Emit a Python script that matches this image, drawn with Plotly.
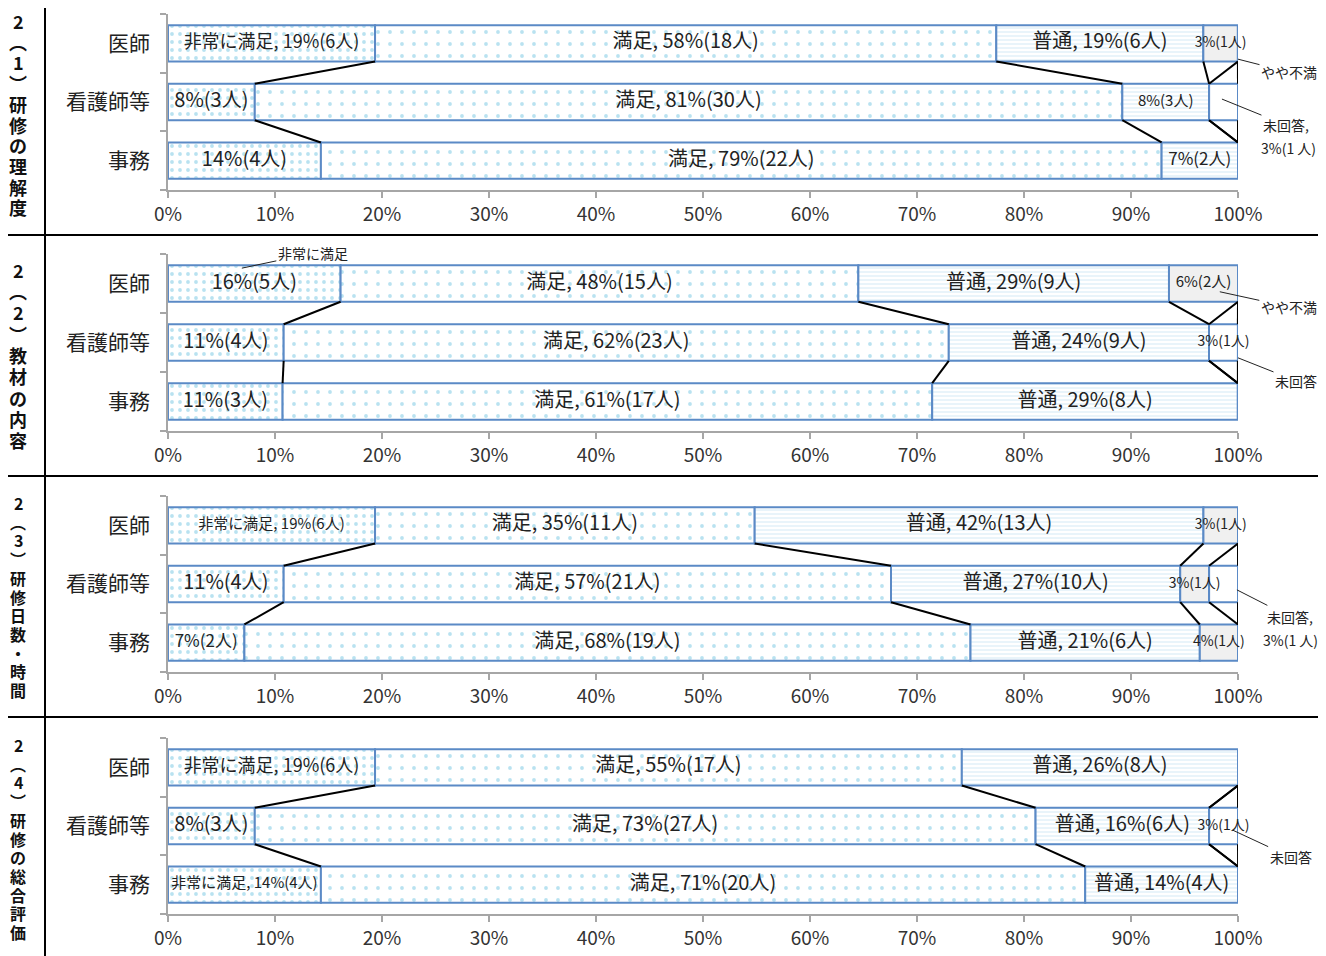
import plotly.graph_objects as go

# ---------------- data ----------------
categories = ["医師", "看護師等", "事務"]
series_names = ["非常に満足", "満足", "普通", "やや不満", "未回答"]
x_tick_vals = [0, 10, 20, 30, 40, 50, 60, 70, 80, 90, 100]
x_tick_text = ["0%", "10%", "20%", "30%", "40%", "50%", "60%", "70%", "80%", "90%", "100%"]
panel_titles = ["2︵1︶研修の理解度", "2︵2︶教材の内容", "2︵3︶研修日数・時間", "2︵4︶研修の総合評価"]

# (1) 研修の理解度  (% per row: 医師, 看護師等, 事務)
q1_very = [19.35, 8.11, 14.29]
q1_sat = [58.06, 81.08, 78.57]
q1_neutral = [19.35, 8.11, 7.14]
q1_dissat = [3.23, 0.0, 0.0]
q1_none = [0.0, 2.70, 0.0]
q1_text_very = ["非常に満足, 19%(6人)", "8%(3人)", "14%(4人)"]
q1_text_sat = ["満足, 58%(18人)", "満足, 81%(30人)", "満足, 79%(22人)"]
q1_text_neutral = ["普通, 19%(6人)", "8%(3人)", "7%(2人)"]
q1_text_dissat = ["3%(1人)", "", ""]
q1_text_none = ["", "", ""]

# (2) 教材の内容
q2_very = [16.13, 10.81, 10.71]
q2_sat = [48.39, 62.16, 60.71]
q2_neutral = [29.03, 24.32, 28.57]
q2_dissat = [6.45, 0.0, 0.0]
q2_none = [0.0, 2.70, 0.0]
q2_text_very = ["16%(5人)", "11%(4人)", "11%(3人)"]
q2_text_sat = ["満足, 48%(15人)", "満足, 62%(23人)", "満足, 61%(17人)"]
q2_text_neutral = ["普通, 29%(9人)", "普通, 24%(9人)", "普通, 29%(8人)"]
q2_text_dissat = ["6%(2人)", "", ""]
q2_text_none = ["", "3%(1人)", ""]

# (3) 研修日数・時間
q3_very = [19.35, 10.81, 7.14]
q3_sat = [35.48, 56.76, 67.86]
q3_neutral = [41.94, 27.03, 21.43]
q3_dissat = [3.23, 2.70, 3.57]
q3_none = [0.0, 2.70, 0.0]
q3_text_very = ["非常に満足, 19%(6人)", "11%(4人)", "7%(2人)"]
q3_text_sat = ["満足, 35%(11人)", "満足, 57%(21人)", "満足, 68%(19人)"]
q3_text_neutral = ["普通, 42%(13人)", "普通, 27%(10人)", "普通, 21%(6人)"]
q3_text_dissat = ["3%(1人)", "3%(1人)", "4%(1人)"]
q3_text_none = ["", "", ""]

# (4) 研修の総合評価
q4_very = [19.35, 8.11, 14.29]
q4_sat = [54.84, 72.97, 71.43]
q4_neutral = [25.81, 16.22, 14.29]
q4_dissat = [0.0, 0.0, 0.0]
q4_none = [0.0, 2.70, 0.0]
q4_text_very = ["非常に満足, 19%(6人)", "8%(3人)", "非常に満足, 14%(4人)"]
q4_text_sat = ["満足, 55%(17人)", "満足, 73%(27人)", "満足, 71%(20人)"]
q4_text_neutral = ["普通, 26%(8人)", "普通, 16%(6人)", "普通, 14%(4人)"]
q4_text_dissat = ["", "", ""]
q4_text_none = ["", "3%(1人)", ""]

# ---------------- style ----------------
FONT = "Noto Sans CJK JP"
BORDER = "#5b8ac6"
BAR_W = 0.62
OFF = 8                      # page body margin
W, H = 1326 - OFF, 956 - OFF  # figure size
X0_PX, X1_PX = 168, 1238     # window pixels of 0% and 100%
panel_px = [(14, 190), (254, 431), (496, 672), (738, 914)]


def px_x(px):
    return (px - OFF) / W


def px_y(py):
    return 1 - (py - OFF) / H


series_style = [
    dict(shape=".", fgcolor="#74c6e2", bgcolor="white", size=8, solidity=0.18),
    dict(shape=".", fgcolor="#74c6e2", bgcolor="white", size=12, solidity=0.08),
    dict(shape="-", fgcolor="#c9e4f4", bgcolor="white", size=4, solidity=0.4),
    None,
    None,
]
series_fill = ["white", "white", "white", "#f0f0f0", "white"]

# label font sizes [panel][series][row]
label_sizes = [
    [[18, 20, 20], [20, 20, 20], [20, 15, 17], [14, 14, 14], [14, 14, 14]],
    [[20, 20, 20], [20, 20, 20], [20, 20, 20], [15, 14, 14], [14, 14, 14]],
    [[15, 20, 17], [20, 20, 20], [20, 20, 20], [14, 14, 14], [14, 14, 14]],
    [[18, 20, 15], [20, 20, 20], [20, 20, 20], [14, 14, 14], [14, 14, 14]],
]

panels = [
    ([q1_very, q1_sat, q1_neutral, q1_dissat, q1_none],
     [q1_text_very, q1_text_sat, q1_text_neutral, q1_text_dissat, q1_text_none]),
    ([q2_very, q2_sat, q2_neutral, q2_dissat, q2_none],
     [q2_text_very, q2_text_sat, q2_text_neutral, q2_text_dissat, q2_text_none]),
    ([q3_very, q3_sat, q3_neutral, q3_dissat, q3_none],
     [q3_text_very, q3_text_sat, q3_text_neutral, q3_text_dissat, q3_text_none]),
    ([q4_very, q4_sat, q4_neutral, q4_dissat, q4_none],
     [q4_text_very, q4_text_sat, q4_text_neutral, q4_text_dissat, q4_text_none]),
]

fig = go.Figure()
rows = list(range(len(categories)))

for p, (values, texts) in enumerate(panels):
    xa = "x" if p == 0 else f"x{p+1}"
    ya = "y" if p == 0 else f"y{p+1}"
    cum_start = [0.0] * len(categories)
    ends = []  # ends[k][r]
    for k, name in enumerate(series_names):
        marker = dict(color=series_fill[k], line=dict(color=BORDER, width=2))
        if series_style[k] is not None:
            marker["pattern"] = series_style[k]
        fig.add_trace(go.Bar(
            x=values[k], y=rows, base=cum_start, orientation="h", width=BAR_W,
            name=name, marker=marker, xaxis=xa, yaxis=ya, hoverinfo="skip",
        ))
        centers = [cum_start[r] + values[k][r] / 2 for r in rows]
        fig.add_trace(go.Scatter(
            x=centers, y=rows, mode="text", text=texts[k],
            textfont=dict(family=FONT, size=label_sizes[p][k], color="#222222"),
            textposition="middle center", xaxis=xa, yaxis=ya, hoverinfo="skip",
            cliponaxis=False,
        ))
        cum_start = [cum_start[r] + values[k][r] for r in rows]
        ends.append(list(cum_start))
    # series lines
    lx, ly = [], []
    for r in rows[:-1]:
        for k in range(len(series_names)):
            lx += [ends[k][r], ends[k][r + 1], None]
            ly += [r + BAR_W / 2, r + 1 - BAR_W / 2, None]
    fig.add_trace(go.Scatter(x=lx, y=ly, mode="lines", line=dict(color="black", width=2),
                             xaxis=xa, yaxis=ya, hoverinfo="skip", cliponaxis=False))

# axes
for p, (top, bot) in enumerate(panel_px):
    sfx = "" if p == 0 else str(p + 1)
    fig.update_layout(**{
        f"xaxis{sfx}": dict(
            domain=[px_x(X0_PX), px_x(X1_PX)], range=[0, 100], anchor=f"y{sfx}",
            tickvals=x_tick_vals, ticktext=x_tick_text, showgrid=False, zeroline=False,
            showline=True, linecolor="#a6a6a6", linewidth=1.5, automargin=False,
            ticks="outside", ticklen=6, tickcolor="#a6a6a6", tickwidth=1.5,
            tickfont=dict(family=FONT, size=19, color="#333333"), fixedrange=True,
        ),
        f"yaxis{sfx}": dict(
            domain=[px_y(bot), px_y(top)], range=[2.5, -0.5], anchor=f"x{sfx}",
            tickvals=rows, ticktext=categories, ticks="", showgrid=False, zeroline=False,
            showline=True, linecolor="#a6a6a6", linewidth=1.5, automargin=False,
            minor=dict(tickvals=[-0.5, 0.5, 1.5, 2.5], ticks="outside", ticklen=6,
                       tickcolor="#a6a6a6", tickwidth=1.5, showgrid=False),
            ticklabelstandoff=12,
            tickfont=dict(family=FONT, size=21, color="#222222"), fixedrange=True,
        ),
    })

annotations = []
# vertical titles: one glyph per line, stacked top to bottom
title_first_y = [21, 270, 503, 745]
title_step = [20.7, 21.25, 18.7, 18.7]
title_sizes = [18, 18, 16, 16]
for t, y0, step, fs in zip(panel_titles, title_first_y, title_step, title_sizes):
    for i, ch in enumerate(t):
        annotations.append(dict(
            x=px_x(18), y=px_y(y0 + i * step), xref="paper", yref="paper", showarrow=False,
            text="<b>" + ch + "</b>", font=dict(family=FONT, size=fs, color="#111111"),
            xanchor="center", yanchor="middle",
        ))


# callouts (anchor in data coords, text offset in px)
def callout(axis_sfx, x, y, text, ax, ay, size=14):
    annotations.append(dict(
        x=x, y=y, xref="x" + axis_sfx, yref="y" + axis_sfx, text=text, showarrow=True,
        arrowhead=0, arrowwidth=1, arrowcolor="#222222", ax=ax, ay=ay,
        font=dict(family=FONT, size=size, color="#222222"), align="left",
    ))


def note(axis_sfx, x, y, text, xs, ys, size=14):
    annotations.append(dict(
        x=x, y=y, xref="x" + axis_sfx, yref="y" + axis_sfx, text=text, showarrow=False,
        xshift=xs, yshift=ys, font=dict(family=FONT, size=size, color="#222222"),
    ))


callout("", 100, 0.27, "やや不満", 51, 13)
callout("", 98.5, 0.95, "未回答,", 64, 26)
note("", 98.5, 0.95, "3%(1 人)", 67, -49)
callout("2", 6.9, -0.26, "非常に満足", 71, -15)
callout("2", 98.3, 0.14, "やや不満", 69, 15)
callout("2", 100, 1.26, "未回答", 58, 23)
callout("3", 100.2, 0.17, "やや不満", 49, 20)
callout("3", 99.9, 1.10, "未回答,", 53, 27)
note("3", 99.9, 1.10, "3%(1 人)", 54, -50)
callout("4", 99.5, 1.07, "未回答", 58, 27)

# frame lines
shapes = [dict(type="line", xref="paper", yref="paper", x0=px_x(45), x1=px_x(45),
               y0=0, y1=px_y(0), line=dict(color="black", width=2))]
for yy in [235, 476, 717]:
    shapes.append(dict(type="line", xref="paper", yref="paper", x0=px_x(0), x1=1,
                       y0=px_y(yy), y1=px_y(yy), line=dict(color="black", width=2)))

fig.update_layout(
    width=W, height=H, margin=dict(l=0, r=0, t=0, b=0, autoexpand=False),
    barmode="overlay", showlegend=False,
    plot_bgcolor="white", paper_bgcolor="white",
    annotations=annotations, shapes=shapes,
    font=dict(family=FONT),
)

fig.write_html("out.html")
